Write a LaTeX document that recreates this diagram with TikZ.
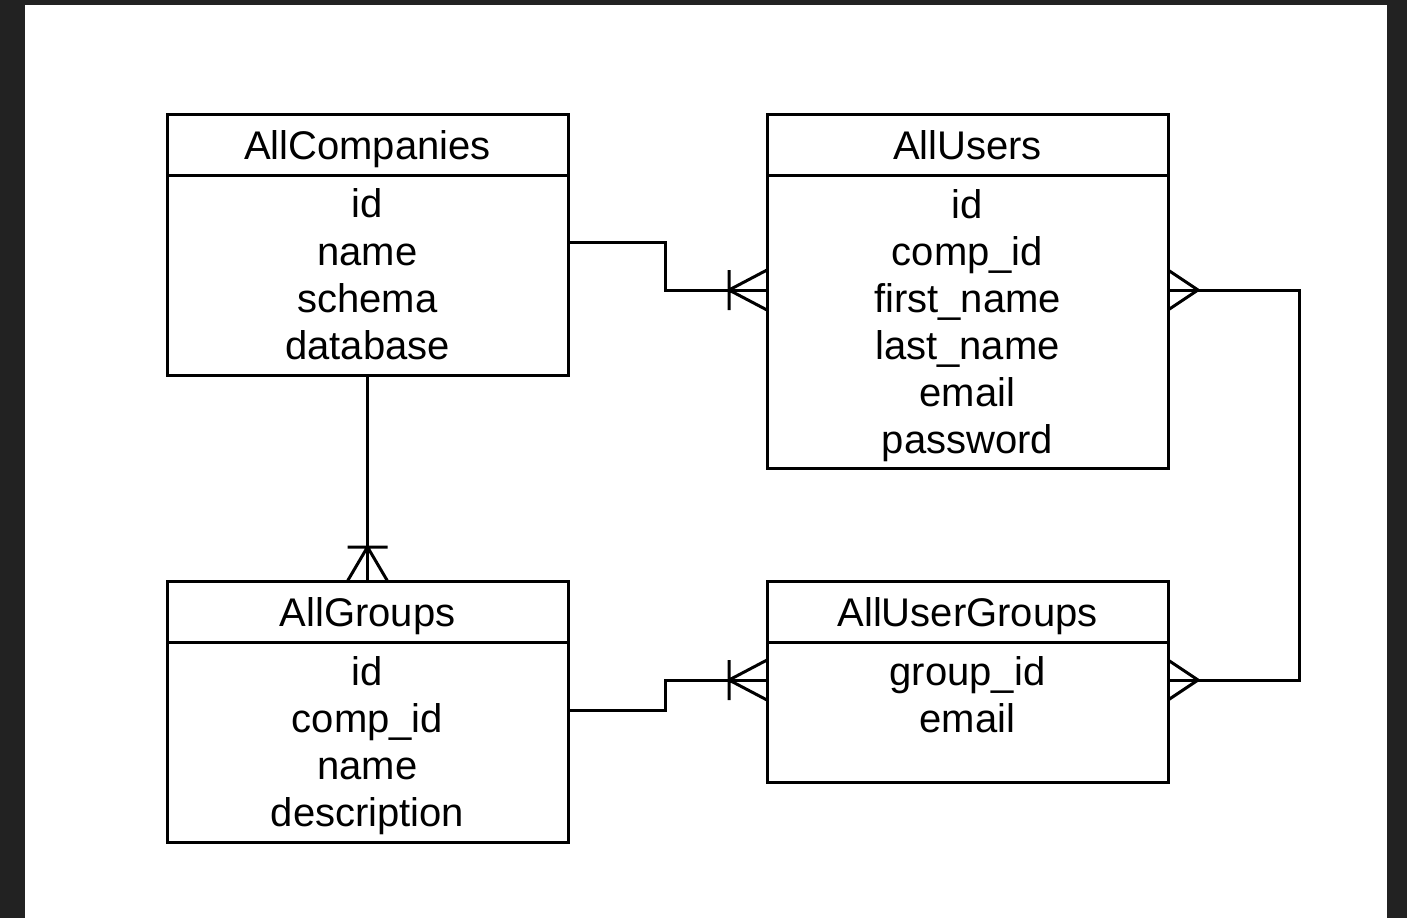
\documentclass[tikz,border=0pt]{standalone}
\usepackage{fontspec}
\setmainfont{Liberation Sans}
\usetikzlibrary{shapes,arrows,positioning,calc}
\definecolor{framegray}{HTML}{222222}

\begin{document}
\begin{tikzpicture}[x=0.5pt,y=-0.5pt,
    every node/.style={font=\fontsize{20}{23.5}\selectfont,outer sep=0pt},
    title/.style={draw,line width=1.5pt,minimum width=200.5pt,minimum height=30.5pt,inner sep=0pt,text height=14.5pt,text depth=0pt},
    body/.style={draw,line width=1.5pt,minimum width=200.5pt,anchor=north,inner sep=0pt},
    fields/.style={anchor=north,align=center,inner sep=0pt,yshift=-7pt},
    link/.style={line width=1.5pt},
    pics/many/.style={code={\draw[link] (0,0) -- (#1,10pt) (0,0) -- (#1,-10pt);}},
    pics/onemany/.style={code={\draw[link] (0,0) -- (#1,10pt) (0,0) -- (#1,-10pt) (0,-10pt) -- (0,10pt);}}]
    % Frame
    \fill[framegray] (0,0) rectangle (1407,918);
    \fill[white] (25,5) rectangle (1387,918);

    % Tables
    \node[title] (comp) at (367.5,144.5) {AllCompanies};
    \node[body,minimum height=100pt] (compbody) at (comp.south) {};
    \node[fields] (compfields) at (compbody.north) {id\\name\\schema\\database};

    \node[title] (user) at (967.5,144.5) {AllUsers};
    \node[body,minimum height=146.5pt] (userbody) at (user.south) {};
    \node[fields] (userfields) at (userbody.north) {id\\comp\_id\\first\_name\\last\_name\\email\\password};

    \node[title] (group) at (367.5,611.5) {AllGroups};
    \node[body,minimum height=100pt] (groupbody) at (group.south) {};
    \node[fields] (groupfields) at (groupbody.north) {id\\comp\_id\\name\\description};

    \node[title] (ug) at (967.5,611.5) {AllUserGroups};
    \node[body,minimum height=70pt] (ugbody) at (ug.south) {};
    \node[fields] (ugfields) at (ugbody.north) {group\_id\\email};

    % Relations
    \draw[link] ([yshift=16.5pt]compbody.east) -- ++(48.5pt,0) |- ([yshift=15.75pt]userbody.west);
    \pic at ([shift={(-19pt,15.75pt)}]userbody.west) {onemany=19pt};

    \draw[link] ([yshift=15.75pt]userbody.east) -- ++(65.5pt,0) |- ([yshift=16pt]ugbody.east);
    \pic[rotate=180] at ([shift={(15pt,15.75pt)}]userbody.east) {many=15pt};
    \pic[rotate=180] at ([shift={(15pt,16pt)}]ugbody.east) {many=15pt};

    \draw[link] (compbody.south) -- (group.north);
    \pic[rotate=-90] at ([yshift=17pt]group.north) {onemany=17pt};

    \draw[link] ([yshift=16pt]groupbody.east) -- ++(48.5pt,0) |- ([yshift=16pt]ugbody.west);
    \pic at ([shift={(-19pt,16pt)}]ugbody.west) {onemany=19pt};
\end{tikzpicture}
\end{document}
